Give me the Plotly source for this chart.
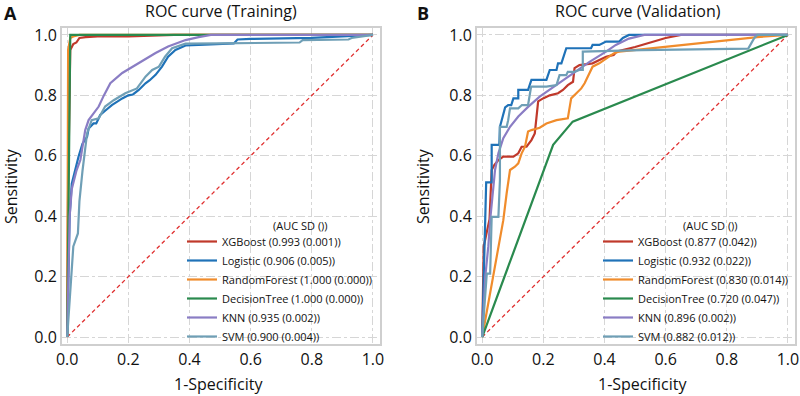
import plotly.graph_objects as go

# ---------------- data ----------------
model_names = ["XGBoost", "Logistic", "RandomForest", "DecisionTree", "KNN", "SVM"]
colors = ["#c0392b", "#1f72b8", "#f08c2c", "#2a8a4e", "#8a7dc4", "#6f9fb6"]

train_auc_labels = ["0.993 (0.001)", "0.906 (0.005)", "1.000 (0.000)", "1.000 (0.000)", "0.935 (0.002)", "0.900 (0.004)"]
valid_auc_labels = ["0.877 (0.042)", "0.932 (0.022)", "0.830 (0.014)", "0.720 (0.047)", "0.896 (0.002)", "0.882 (0.012)"]
legend_title = "(AUC SD ())"

# Training curves
tr_xgb_fpr = [0, 0.003, 0.01, 0.015, 0.02, 0.03, 0.04, 0.06, 0.1, 0.2, 0.3, 0.35, 1.0]
tr_xgb_tpr = [0, 0.5, 0.95, 0.96, 0.97, 0.975, 0.99, 0.993, 0.995, 0.995, 0.997, 1.0, 1.0]

tr_log_fpr = [0, 0.008, 0.015, 0.025, 0.037, 0.05, 0.065, 0.07, 0.086, 0.095, 0.108, 0.125, 0.146, 0.165,
              0.18, 0.2, 0.215, 0.234, 0.256, 0.27, 0.289, 0.31, 0.33, 0.354, 0.387, 0.45, 0.545, 0.557, 0.6, 0.8, 1.0]
tr_log_tpr = [0, 0.4, 0.508, 0.55, 0.597, 0.64, 0.663, 0.69, 0.707, 0.707, 0.735, 0.75, 0.768, 0.78,
              0.79, 0.8, 0.803, 0.818, 0.84, 0.85, 0.868, 0.895, 0.928, 0.95, 0.965, 0.968, 0.972, 0.985, 0.987, 0.99, 1.0]

tr_rf_fpr = [0, 0.003, 0.01, 0.02, 0.04, 1.0]
tr_rf_tpr = [0, 0.95, 0.99, 0.995, 1.0, 1.0]

tr_dt_fpr = [0, 0.01, 1.0]
tr_dt_tpr = [0, 1.0, 1.0]

tr_knn_fpr = [0, 0.008, 0.015, 0.03, 0.043, 0.059, 0.07, 0.085, 0.103, 0.12, 0.141, 0.18, 0.234, 0.289,
              0.33, 0.387, 0.43, 0.47, 1.0]
tr_knn_tpr = [0, 0.4, 0.49, 0.55, 0.586, 0.685, 0.718, 0.74, 0.763, 0.8, 0.84, 0.874, 0.907, 0.94,
              0.962, 0.983, 0.993, 1.0, 1.0]

tr_svm_fpr = [0, 0.01, 0.015, 0.02, 0.035, 0.04, 0.05, 0.06, 0.065, 0.08, 0.103, 0.124, 0.152, 0.19,
              0.228, 0.256, 0.278, 0.30, 0.32, 0.343, 0.387, 0.5, 0.76, 0.77, 0.92, 0.93, 1.0]
tr_svm_tpr = [0, 0.15, 0.2, 0.3, 0.343, 0.45, 0.55, 0.63, 0.674, 0.718, 0.724, 0.763, 0.784, 0.807,
              0.823, 0.862, 0.884, 0.895, 0.928, 0.956, 0.971, 0.972, 0.975, 0.983, 0.985, 0.99, 1.0]

# Validation curves
va_xgb_fpr = [0, 0.005, 0.024, 0.031, 0.04, 0.053, 0.069, 0.102, 0.118, 0.129, 0.145, 0.161, 0.172, 0.183,
              0.199, 0.221, 0.248, 0.264, 0.28, 0.297, 0.302, 0.318, 0.361, 0.383, 0.405, 0.43, 0.44, 0.5,
              0.55, 0.6, 0.65, 1.0]
va_xgb_tpr = [0, 0.3, 0.39, 0.553, 0.57, 0.586, 0.597, 0.597, 0.608, 0.63, 0.63, 0.652, 0.674, 0.78,
              0.79, 0.80, 0.807, 0.818, 0.834, 0.845, 0.89, 0.9, 0.906, 0.917, 0.928, 0.934, 0.945, 0.96,
              0.975, 0.99, 1.0, 1.0]

va_log_fpr = [0, 0.013, 0.031, 0.031, 0.056, 0.058, 0.075, 0.085, 0.095, 0.102, 0.118, 0.118, 0.129, 0.15,
              0.161, 0.21, 0.221, 0.243, 0.248, 0.259, 0.275, 0.356, 0.361, 0.383, 0.405, 0.448, 0.46, 0.48, 1.0]
va_log_tpr = [0, 0.512, 0.512, 0.636, 0.636, 0.696, 0.76, 0.768, 0.768, 0.79, 0.79, 0.818, 0.818, 0.818,
              0.851, 0.851, 0.884, 0.884, 0.906, 0.906, 0.956, 0.956, 0.967, 0.967, 0.978, 0.978, 0.99, 1.0, 1.0]

va_rf_fpr = [0, 0.069, 0.08, 0.091, 0.107, 0.118, 0.129, 0.14, 0.15, 0.161, 0.188, 0.21, 0.243, 0.28,
             0.291, 0.308, 0.324, 0.335, 0.345, 0.361, 0.383, 0.416, 0.43, 0.448, 0.52, 0.9, 1.0]
va_rf_tpr = [0, 0.387, 0.476, 0.553, 0.564, 0.575, 0.608, 0.63, 0.68, 0.685, 0.693, 0.707, 0.718, 0.724,
             0.79, 0.807, 0.823, 0.84, 0.862, 0.895, 0.906, 0.928, 0.939, 0.945, 0.952, 0.993, 1.0]

va_dt_fpr = [0, 0.232, 0.296, 1.0]
va_dt_tpr = [0, 0.636, 0.713, 1.0]

va_knn_fpr = [0, 0.01, 0.02, 0.026, 0.042, 0.053, 0.069, 0.091, 0.118, 0.15, 0.188, 0.243, 0.297, 0.351,
              0.405, 0.437, 0.48, 0.53, 1.0]
va_knn_tpr = [0, 0.2, 0.3, 0.387, 0.553, 0.608, 0.658, 0.696, 0.73, 0.762, 0.796, 0.834, 0.873, 0.911,
              0.945, 0.967, 0.988, 1.0, 1.0]

va_svm_fpr = [0, 0.015, 0.026, 0.031, 0.053, 0.058, 0.058, 0.08, 0.085, 0.091, 0.118, 0.13, 0.15, 0.16,
              0.21, 0.243, 0.253, 0.275, 0.28, 0.30, 0.318, 0.329, 0.329, 0.52, 0.87, 0.89, 0.9, 1.0]
va_svm_tpr = [0, 0.21, 0.21, 0.398, 0.398, 0.52, 0.696, 0.696, 0.718, 0.757, 0.757, 0.768, 0.768, 0.829,
              0.829, 0.834, 0.867, 0.867, 0.878, 0.878, 0.884, 0.884, 0.945, 0.95, 0.955, 0.99, 1.0, 1.0]

diag = [0, 1]
tick_vals = [0.0, 0.2, 0.4, 0.6, 0.8, 1.0]
tick_text = ["0.0", "0.2", "0.4", "0.6", "0.8", "1.0"]

train_curves = [(tr_xgb_fpr, tr_xgb_tpr), (tr_log_fpr, tr_log_tpr), (tr_rf_fpr, tr_rf_tpr),
                (tr_dt_fpr, tr_dt_tpr), (tr_knn_fpr, tr_knn_tpr), (tr_svm_fpr, tr_svm_tpr)]
valid_curves = [(va_xgb_fpr, va_xgb_tpr), (va_log_fpr, va_log_tpr), (va_rf_fpr, va_rf_tpr),
                (va_dt_fpr, va_dt_tpr), (va_knn_fpr, va_knn_tpr), (va_svm_fpr, va_svm_tpr)]

FONT = "Open Sans"

fig = go.Figure()

# diagonals
for xa, ya in (("x", "y"), ("x2", "y2")):
    fig.add_trace(go.Scatter(x=diag, y=diag, mode="lines", xaxis=xa, yaxis=ya, showlegend=False,
                             line=dict(color="#e03030", width=1.3, dash="4px,3px"), hoverinfo="skip"))

for i, name in enumerate(model_names):
    fx, ty = train_curves[i]
    fig.add_trace(go.Scatter(x=fx, y=ty, mode="lines", xaxis="x", yaxis="y", legend="legend",
                             name=f"{name} ({train_auc_labels[i]})",
                             line=dict(color=colors[i], width=2.2)))
for i, name in enumerate(model_names):
    fx, ty = valid_curves[i]
    fig.add_trace(go.Scatter(x=fx, y=ty, mode="lines", xaxis="x2", yaxis="y2", legend="legend2",
                             name=f"{name} ({valid_auc_labels[i]})",
                             line=dict(color=colors[i], width=2.2)))

axis_common = dict(
    range=[-0.017, 1.023], tickvals=tick_vals, ticktext=tick_text, automargin=False,
    showgrid=True, gridcolor="#d6d6d6", gridwidth=1, griddash="dashdot",
    showline=True, linecolor="#cfcfcf", linewidth=2, mirror=True,
    zeroline=False, ticks="", tickfont=dict(size=16, color="#111111", family=FONT),
)
yaxis_common = dict(axis_common)
yaxis_common["range"] = [-0.023, 1.023]

W, H = 800, 396
def px_x(p):
    return p / W
def px_y(p):
    return 1 - p / H

legend_common = dict(
    bgcolor="rgba(0,0,0,0)", borderwidth=0, font=dict(size=11, family=FONT, color="#111111"),
    xanchor="left", yanchor="bottom", itemwidth=30, tracegroupgap=0,
)

fig.update_layout(
    template="none",
    width=W, height=H, margin=dict(l=0, r=0, t=0, b=0),
    paper_bgcolor="white", plot_bgcolor="white",
    font=dict(family=FONT, color="#111111"),
    xaxis=dict(axis_common, domain=[px_x(62), px_x(380)], anchor="y"),
    yaxis=dict(yaxis_common, domain=[px_y(344), px_y(28)], anchor="x"),
    xaxis2=dict(axis_common, domain=[px_x(477), px_x(795)], anchor="y2"),
    yaxis2=dict(yaxis_common, domain=[px_y(344), px_y(28)], anchor="x2"),
    legend=dict(legend_common, x=px_x(182), y=px_y(351)),
    legend2=dict(legend_common, x=px_x(598), y=px_y(351)),
    showlegend=True,
)

# white boxes behind the legends (between gridlines and traces)
for x0, x1 in ((188, 378), (604, 793)):
    fig.add_shape(type="rect", xref="paper", yref="paper", layer="between",
                  x0=px_x(x0), x1=px_x(x1), y0=px_y(343), y1=px_y(220),
                  fillcolor="white", line=dict(width=0))

annotations = [
    dict(text="<b>A</b>", x=px_x(10), y=px_y(13)),
    dict(text="<b>B</b>", x=px_x(423), y=px_y(13)),
    dict(text="ROC curve (Training)", x=px_x(221), y=px_y(11)),
    dict(text="ROC curve (Validation)", x=px_x(638), y=px_y(11)),
    dict(text="1-Specificity", x=px_x(218), y=px_y(384)),
    dict(text="1-Specificity", x=px_x(642), y=px_y(384)),
    dict(text="Sensitivity", x=px_x(11), y=px_y(186), textangle=-90),
    dict(text="Sensitivity", x=px_x(423), y=px_y(186), textangle=-90),
]
for a in annotations:
    size = 18 if "<b>" in a["text"] else 16
    fig.add_annotation(xref="paper", yref="paper", showarrow=False, xanchor="center", yanchor="middle",
                       font=dict(size=size, family=FONT, color="#111111"), **a)

# legend titles centred above the entries
for cx in (300, 710):
    fig.add_annotation(xref="paper", yref="paper", showarrow=False, xanchor="center", yanchor="middle",
                       x=px_x(cx), y=px_y(225), text=legend_title,
                       font=dict(size=11, family=FONT, color="#111111"))

fig.write_html("out.html", config={"displayModeBar": False},
               post_script="document.body.style.margin='0px';document.body.style.padding='0px';")
